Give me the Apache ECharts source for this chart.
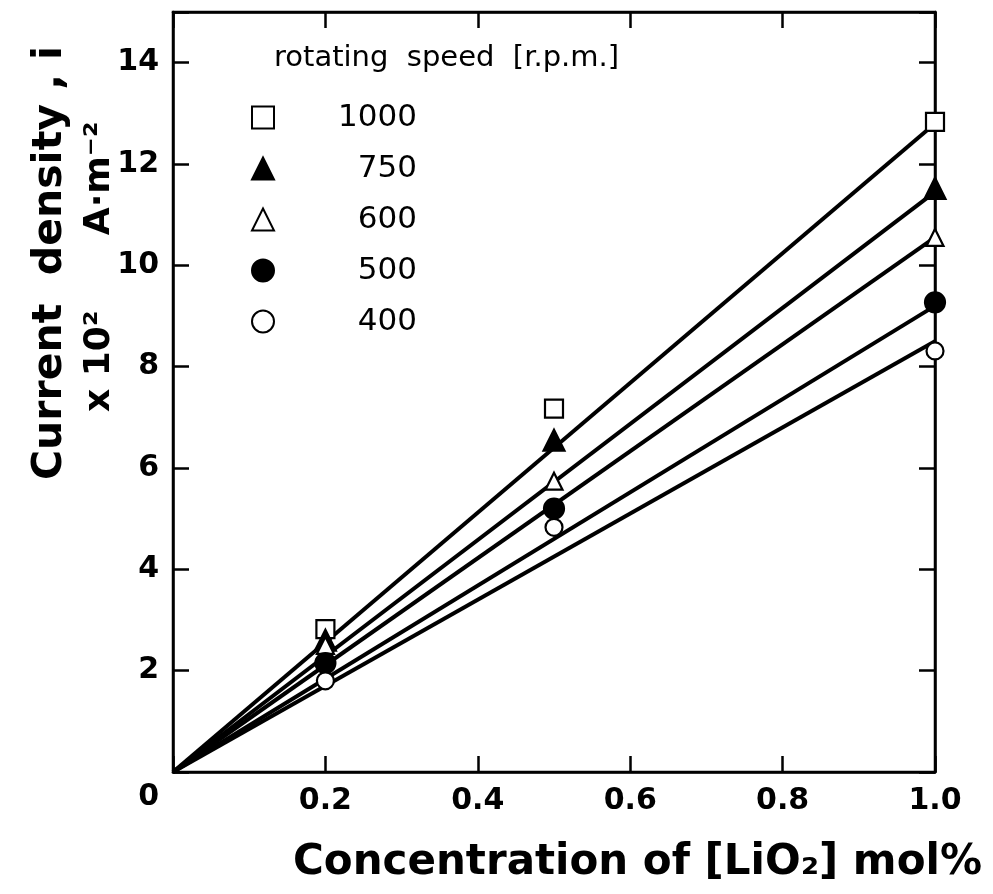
<!DOCTYPE html>
<html>
<head>
<meta charset="utf-8">
<script src="https://cdn.jsdelivr.net/npm/echarts@6/dist/echarts.min.js"></script>
<style>
html,body{margin:0;padding:0;background:#fff;}
#chart{width:993px;height:894px;}
</style>
</head>
<body>
<div id="chart"></div>
<script>
// ---- data ----
var concentration = [0.2, 0.5, 1.0];
var speeds = ['1000', '750', '600', '500', '400'];
var current1000 = [2.82, 7.17, 12.83];
var current750  = [2.60, 6.55, 11.52];
var current600  = [2.50, 5.74, 10.55];
var current500  = [2.15, 5.20, 9.27];
var current400  = [1.80, 4.83, 8.31];
// fitted straight lines through origin: value reached at concentration 1.0
var fitAtOne = [12.8, 11.45, 10.55, 9.2, 8.5];
var xTicks = [0, 0.2, 0.4, 0.6, 0.8, 1.0];
var yTicks = [0, 2, 4, 6, 8, 10, 12, 14];

var allCurrents = [current1000, current750, current600, current500, current400];
var symbolStyle = [
  {symbol: 'rect', size: 18, fill: '#fff'},
  {symbol: 'triangle', size: 21, fill: '#000'},
  {symbol: 'triangle', size: 17, fill: '#fff'},
  {symbol: 'circle', size: 20, fill: '#000'},
  {symbol: 'circle', size: 17, fill: '#fff'}
];

var FONT = 'DejaVu Sans';
var series = [];
speeds.forEach(function (s, i) {
  series.push({
    name: 'fit' + s,
    type: 'line',
    xAxisIndex: 0, yAxisIndex: 0,
    data: [[0, 0], [1.0, fitAtOne[i]]],
    showSymbol: false,
    symbol: 'none',
    lineStyle: {color: '#000', width: 4},
    silent: true,
    z: 2
  });
});
speeds.forEach(function (s, i) {
  var st = symbolStyle[i];
  series.push({
    name: s,
    type: 'scatter',
    xAxisIndex: 0, yAxisIndex: 0,
    data: concentration.map(function (c, j) { return [c, allCurrents[i][j]]; }),
    symbol: st.symbol,
    symbolSize: st.size,
    itemStyle: {color: st.fill, borderColor: '#000', borderWidth: 2.2, opacity: 1},
    z: 5
  });
});

function axisCommon(extra) {
  var base = {
    type: 'value',
    splitLine: {show: false},
    axisLine: {onZero: false, lineStyle: {color: '#000', width: 2.5}},
    axisTick: {inside: true, length: 16, lineStyle: {color: '#000', width: 2.5}}
  };
  for (var k in extra) base[k] = extra[k];
  return base;
}

var chart = echarts.init(document.getElementById('chart'), null, {renderer: 'canvas'});
chart.setOption({
  backgroundColor: '#fff',
  animation: false,
  textStyle: {fontFamily: FONT, color: '#000'},
  grid: {left: 173, right: 58, top: 12, bottom: 122, show: true, borderColor: '#000', borderWidth: 2.5, backgroundColor: 'transparent'},
  legend: {
    data: speeds,
    orient: 'vertical',
    left: 246,
    top: 97,
    itemWidth: 22,
    itemHeight: 22,
    itemGap: 20,
    selectedMode: false,
    formatter: function (n) { return '{a|' + n + '}'; },
    textStyle: {
      color: '#000',
      rich: {a: {fontFamily: FONT, fontSize: 31, lineHeight: 31, width: 138, align: 'right', color: '#000'}}
    }
  },
  graphic: [
    {type: 'text', left: 274, top: 44, style: {text: 'rotating  speed  [r.p.m.]', font: '29px "DejaVu Sans"', fill: '#000'}},
    {type: 'text', x: 30, y: 480, rotation: Math.PI / 2, style: {text: 'Current  density , i', font: 'bold 41px "DejaVu Sans"', fill: '#000'}},
    {type: 'text', x: 82, y: 412, rotation: Math.PI / 2, style: {text: 'x 10²      A·m⁻²', font: 'bold 36px "DejaVu Sans"', fill: '#000'}},
    {type: 'text', left: 293, top: 842, style: {text: 'Concentration of [LiO₂] mol%', font: 'bold 42px "DejaVu Sans"', fill: '#000'}}
  ],
  xAxis: [
    axisCommon({
      min: 0, max: 1.0, interval: 0.2, position: 'bottom',
      axisLabel: {
        margin: 14, fontSize: 30, fontWeight: 'bold', color: '#000', fontFamily: FONT,
        formatter: function (v) { return v === 0 ? '' : v.toFixed(1); }
      }
    }),
    axisCommon({
      min: 0, max: 1.0, interval: 0.2, position: 'top',
      axisLabel: {show: false}
    })
  ],
  yAxis: [
    axisCommon({
      min: 0, max: 15, interval: 2, position: 'left',
      axisLabel: {
        margin: 14, fontSize: 30, fontWeight: 'bold', color: '#000', fontFamily: FONT,
        formatter: function (v) {
          if (v === 0) return '{z|0}';
          return yTicks.indexOf(v) >= 0 ? String(v) : '';
        },
        rich: {z: {fontSize: 30, fontWeight: 'bold', fontFamily: FONT, color: '#000', padding: [50, 0, 0, 0]}}
      }
    }),
    axisCommon({
      min: 0, max: 15, interval: 2, position: 'right',
      axisLabel: {show: false}
    })
  ],
  series: series
});
</script>
</body>
</html>
